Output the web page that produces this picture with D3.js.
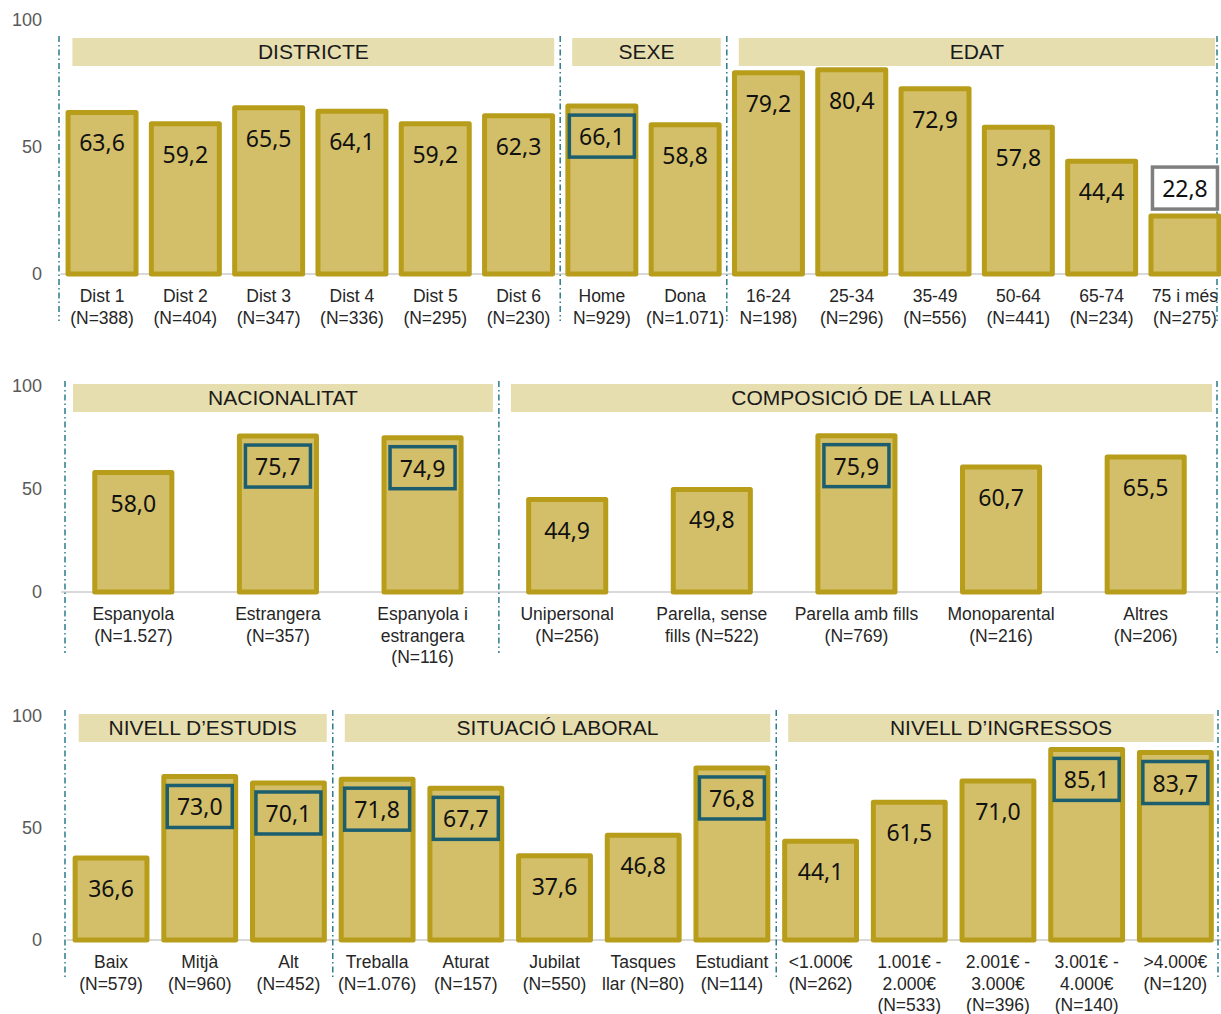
<!DOCTYPE html>
<html>
<head>
<meta charset="utf-8">
<script src="https://cdn.jsdelivr.net/npm/d3@7"></script>
<style>
  html, body { margin: 0; padding: 0; background: #fff; }
  svg { display: block; }
</style>
</head>
<body>
<svg id="chart" width="1221" height="1014"></svg>
<script>
// ---------- DATA ----------
const yTicks = [0, 50, 100];

const p1Categories = [["Dist 1","(N=388)"],["Dist 2","(N=404)"],["Dist 3","(N=347)"],["Dist 4","(N=336)"],["Dist 5","(N=295)"],["Dist 6","(N=230)"],["Home","N=929)"],["Dona","(N=1.071)"],["16-24","N=198)"],["25-34","(N=296)"],["35-49","(N=556)"],["50-64","(N=441)"],["65-74","(N=234)"],["75 i més","(N=275)"]];
const p1Values = [63.6, 59.2, 65.5, 64.1, 59.2, 62.3, 66.1, 58.8, 79.2, 80.4, 72.9, 57.8, 44.4, 22.8];
const p1Flags = [0,0,0,0,0,0,1,0,0,0,0,0,0,2]; // 1 = above average, 2 = below average
const p1Groups = ["DISTRICTE", "SEXE", "EDAT"];
const p1GroupSizes = [6, 2, 6];

const p2Categories = [["Espanyola","(N=1.527)"],["Estrangera","(N=357)"],["Espanyola i","estrangera","(N=116)"],["Unipersonal","(N=256)"],["Parella, sense","fills (N=522)"],["Parella amb fills","(N=769)"],["Monoparental","(N=216)"],["Altres","(N=206)"]];
const p2Values = [58.0, 75.7, 74.9, 44.9, 49.8, 75.9, 60.7, 65.5];
const p2Flags = [0,1,1,0,0,1,0,0];
const p2Groups = ["NACIONALITAT", "COMPOSICIÓ DE LA LLAR"];
const p2GroupSizes = [3, 5];

const p3Categories = [["Baix","(N=579)"],["Mitjà","(N=960)"],["Alt","(N=452)"],["Treballa","(N=1.076)"],["Aturat","(N=157)"],["Jubilat","(N=550)"],["Tasques","llar (N=80)"],["Estudiant","(N=114)"],["<1.000€","(N=262)"],["1.001€ -","2.000€","(N=533)"],["2.001€ -","3.000€","(N=396)"],["3.001€ -","4.000€","(N=140)"],[">4.000€","(N=120)"]];
const p3Values = [36.6, 73.0, 70.1, 71.8, 67.7, 37.6, 46.8, 76.8, 44.1, 61.5, 71.0, 85.1, 83.7];
const p3Flags = [0,1,1,1,1,0,0,1,0,0,0,1,1];
const p3Groups = ["NIVELL D’ESTUDIS", "SITUACIÓ LABORAL", "NIVELL D’INGRESSOS"];
const p3GroupSizes = [3, 5, 5];

// ---------- STYLE ----------
const C = {
  barFill: "#D3BF69", barStroke: "#B89D1B", header: "#E6DEAF",
  hiStroke: "#1D5E6E", loStroke: "#7F7F7F", sep: "#2C7C8A",
  axisText: "#595959", baseline: "#D9D9D9", text: "#1A1A1A"
};
const fmt = v => d3.format(".1f")(v).replace(".", ",");

const svg = d3.select("#chart");

function drawPanel(cfg) {
  const { cats, vals, flags, groups, sizes, yTop, yZero, xRange, pad, headerY, sepLeft, sepRight, sepY0, sepY1, sepShift } = cfg;
  const g = svg.append("g");
  const idx = cats.map((d, i) => i);
  const x = d3.scaleBand().domain(idx).range(xRange).paddingInner(pad).paddingOuter(pad / 2);
  const y = d3.scaleLinear().domain([0, 100]).range([yZero, yTop]);
  const step = x.step();

  // y tick labels
  g.selectAll("text.yt").data(yTicks).join("text")
    .attr("x", 42).attr("y", d => y(d)).attr("text-anchor", "end")
    .attr("dominant-baseline", "central")
    .attr("font-family", "Liberation Sans, Arial, sans-serif").attr("font-size", 18)
    .attr("fill", C.axisText).text(d => d);

  // baseline
  g.append("line").attr("x1", xRange[0]).attr("x2", 1221)
    .attr("y1", y(0)).attr("y2", y(0)).attr("stroke", C.baseline).attr("stroke-width", 2);

  // group extents
  let start = 0;
  const groupExt = sizes.map((n, k) => {
    const g0 = xRange[0] + start * step, g1 = xRange[0] + (start + n) * step;
    start += n;
    return { name: groups[k], x0: g0, x1: g1 };
  });
  groupExt.forEach((e, k) => {
    if (k > 0) e.x0 += sepShift;
    if (k < groupExt.length - 1) e.x1 += sepShift;
    e.x1 = Math.min(e.x1, sepRight + 4);
  });

  // separators
  const sepXs = [sepLeft].concat(groupExt.slice(0, -1).map(e => e.x1)).concat([sepRight]);
  g.selectAll("line.sep").data(sepXs).join("line")
    .attr("x1", d => d).attr("x2", d => d).attr("y1", sepY0).attr("y2", sepY1)
    .attr("stroke", C.sep).attr("stroke-width", 1.5).attr("stroke-dasharray", "6,3,1.5,3");

  // headers
  const hg = g.selectAll("g.hdr").data(groupExt).join("g");
  hg.append("rect").attr("x", d => d.x0 + 12).attr("width", d => d.x1 - d.x0 - 18)
    .attr("y", headerY).attr("height", 28).attr("fill", C.header);
  hg.append("text").attr("x", d => (d.x0 + 12 + d.x1 - 6) / 2).attr("y", headerY + 13.5)
    .attr("text-anchor", "middle").attr("dominant-baseline", "central")
    .attr("font-family", "Liberation Sans, Arial, sans-serif").attr("font-size", 21)
    .attr("fill", C.text).text(d => d.name);

  // bars
  g.selectAll("rect.bar").data(idx).join("rect")
    .attr("x", i => x(i)).attr("width", x.bandwidth())
    .attr("y", i => y(vals[i])).attr("height", i => y(0) - y(vals[i]))
    .attr("fill", C.barFill).attr("stroke", C.barStroke).attr("stroke-width", 5)
    .attr("stroke-linejoin", "round");

  // label boxes
  const lblY = i => flags[i] === 2 ? y(vals[i]) - 28 : y(vals[i]) + 30;
  g.selectAll("rect.lb").data(idx.filter(i => flags[i] > 0)).join("rect")
    .attr("x", i => x(i) + x.bandwidth() / 2 - 32.5).attr("width", 65)
    .attr("y", i => lblY(i) - 21).attr("height", 42)
    .attr("fill", i => flags[i] === 2 ? "#fff" : "none")
    .attr("stroke", i => flags[i] === 2 ? C.loStroke : C.hiStroke).attr("stroke-width", 3.5);

  // value labels
  g.selectAll("text.val").data(idx).join("text")
    .attr("x", i => x(i) + x.bandwidth() / 2).attr("y", lblY)
    .attr("text-anchor", "middle").attr("dominant-baseline", "central")
    .attr("font-family", "Noto Sans, sans-serif").attr("font-size", 23)
    .attr("fill", "#111").text(i => fmt(vals[i]));

  // category labels
  const cl = g.selectAll("text.cat").data(idx).join("text")
    .attr("text-anchor", "middle")
    .attr("font-family", "Liberation Sans, Arial, sans-serif").attr("font-size", 17.5)
    .attr("fill", "#262626");
  cl.each(function (i) {
    const t = d3.select(this);
    cats[i].forEach((line, k) => {
      t.append("tspan").attr("x", x(i) + x.bandwidth() / 2)
        .attr("y", y(0) + 28 + k * 21.5).text(line);
    });
  });
}

drawPanel({ cats: p1Categories, vals: p1Values, flags: p1Flags, groups: p1Groups, sizes: p1GroupSizes,
  yTop: 20, yZero: 274, xRange: [60.4, 1226.6], pad: 0.184, headerY: 38,
  sepLeft: 59, sepRight: 1217, sepY0: 36, sepY1: 321, sepShift: 0 });

drawPanel({ cats: p2Categories, vals: p2Values, flags: p2Flags, groups: p2Groups, sizes: p2GroupSizes,
  yTop: 386, yZero: 592, xRange: [61, 1218], pad: 0.467, headerY: 384,
  sepLeft: 65, sepRight: 1217, sepY0: 381, sepY1: 653, sepShift: 4 });

drawPanel({ cats: p3Categories, vals: p3Values, flags: p3Flags, groups: p3Groups, sizes: p3GroupSizes,
  yTop: 716, yZero: 940, xRange: [66.7, 1219.7], pad: 0.19, headerY: 714,
  sepLeft: 65, sepRight: 1218, sepY0: 710, sepY1: 977, sepShift: 0 });
</script>
</body>
</html>
